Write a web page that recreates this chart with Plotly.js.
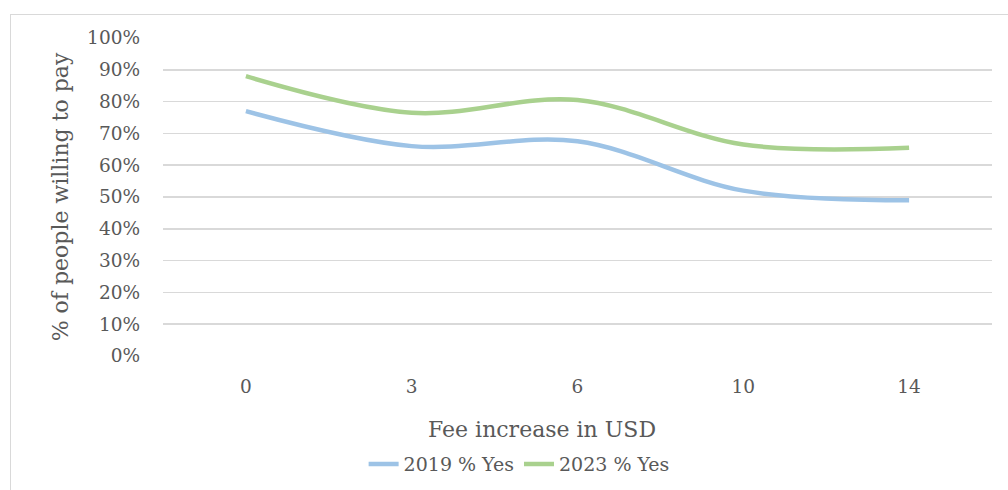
<!DOCTYPE html>
<html>
<head>
<meta charset="utf-8">
<script src="https://cdn.plot.ly/plotly-3.0.1.min.js"></script>
<style>
html,body{margin:0;padding:0;background:#fff;}
#wrap{position:relative;width:1008px;height:490px;overflow:hidden;}
#chart{width:1008px;height:490px;}
#frame{position:absolute;left:10px;top:14px;width:1100px;height:600px;border:1.5px solid #d9d9d9;pointer-events:none;}
</style>
</head>
<body>
<div id="wrap"><div id="chart"></div><div id="frame"></div></div>
<script>
const categories = ["0", "3", "6", "10", "14"];
const yes2019 = [0.77, 0.66, 0.675, 0.52, 0.49];
const yes2023 = [0.88, 0.765, 0.805, 0.665, 0.655];
const seriesNames = ["2019 % Yes", "2023 % Yes"];
const yTickVals = [0, 0.1, 0.2, 0.3, 0.4, 0.5, 0.6, 0.7, 0.8, 0.9, 1.0];
const yTickText = ["0%", "10%", "20%", "30%", "40%", "50%", "60%", "70%", "80%", "90%", "100%"];
const xTitle = "Fee increase in USD";
const yTitle = "% of people willing to pay";

const FONT = "DejaVu Serif, serif";
const GRAY = "#595959";

const traces = [
  {x: categories, y: yes2019, name: seriesNames[0], type: "scatter", mode: "lines",
   line: {color: "#9dc3e6", width: 4.5, shape: "spline", smoothing: 1}},
  {x: categories, y: yes2023, name: seriesNames[1], type: "scatter", mode: "lines",
   line: {color: "#a9d18e", width: 4.5, shape: "spline", smoothing: 1}}
];

const layout = {
  width: 1008, height: 490,
  margin: {l: 163, r: 16, t: 38, b: 134},
  paper_bgcolor: "#fff", plot_bgcolor: "#fff",
  font: {family: FONT, color: GRAY, size: 18},
  showlegend: true,
  legend: {orientation: "h", xref: "container", yref: "container", x: 0.515, y: 0.053,
           xanchor: "center", yanchor: "middle", font: {family: FONT, size: 19, color: GRAY},
           traceorder: "normal"},
  xaxis: {type: "category", range: [-0.5, 4.5], showgrid: false, zeroline: false,
          showline: false, ticks: "", ticklabelstandoff: 17,
          tickfont: {family: FONT, size: 18.5, color: GRAY},
          automargin: false, fixedrange: true},
  yaxis: {range: [0, 1], tickvals: yTickVals, ticktext: yTickText, showgrid: true,
          gridcolor: "#d9d9d9", gridwidth: 1.5, zeroline: false, showline: false, ticks: "",
          ticklabelstandoff: 22, tickfont: {family: FONT, size: 18.5, color: GRAY},
          title: {text: yTitle, font: {family: FONT, size: 22, color: GRAY}, standoff: 12},
          automargin: false, fixedrange: true},
  annotations: [
    {text: xTitle, xref: "paper", yref: "paper", x: 0.457, y: -0.232,
     xanchor: "center", yanchor: "middle", showarrow: false,
     font: {family: FONT, size: 22, color: GRAY}}
  ]
};

Plotly.newPlot("chart", traces, layout, {displayModeBar: false, staticPlot: true});
</script>
</body>
</html>
